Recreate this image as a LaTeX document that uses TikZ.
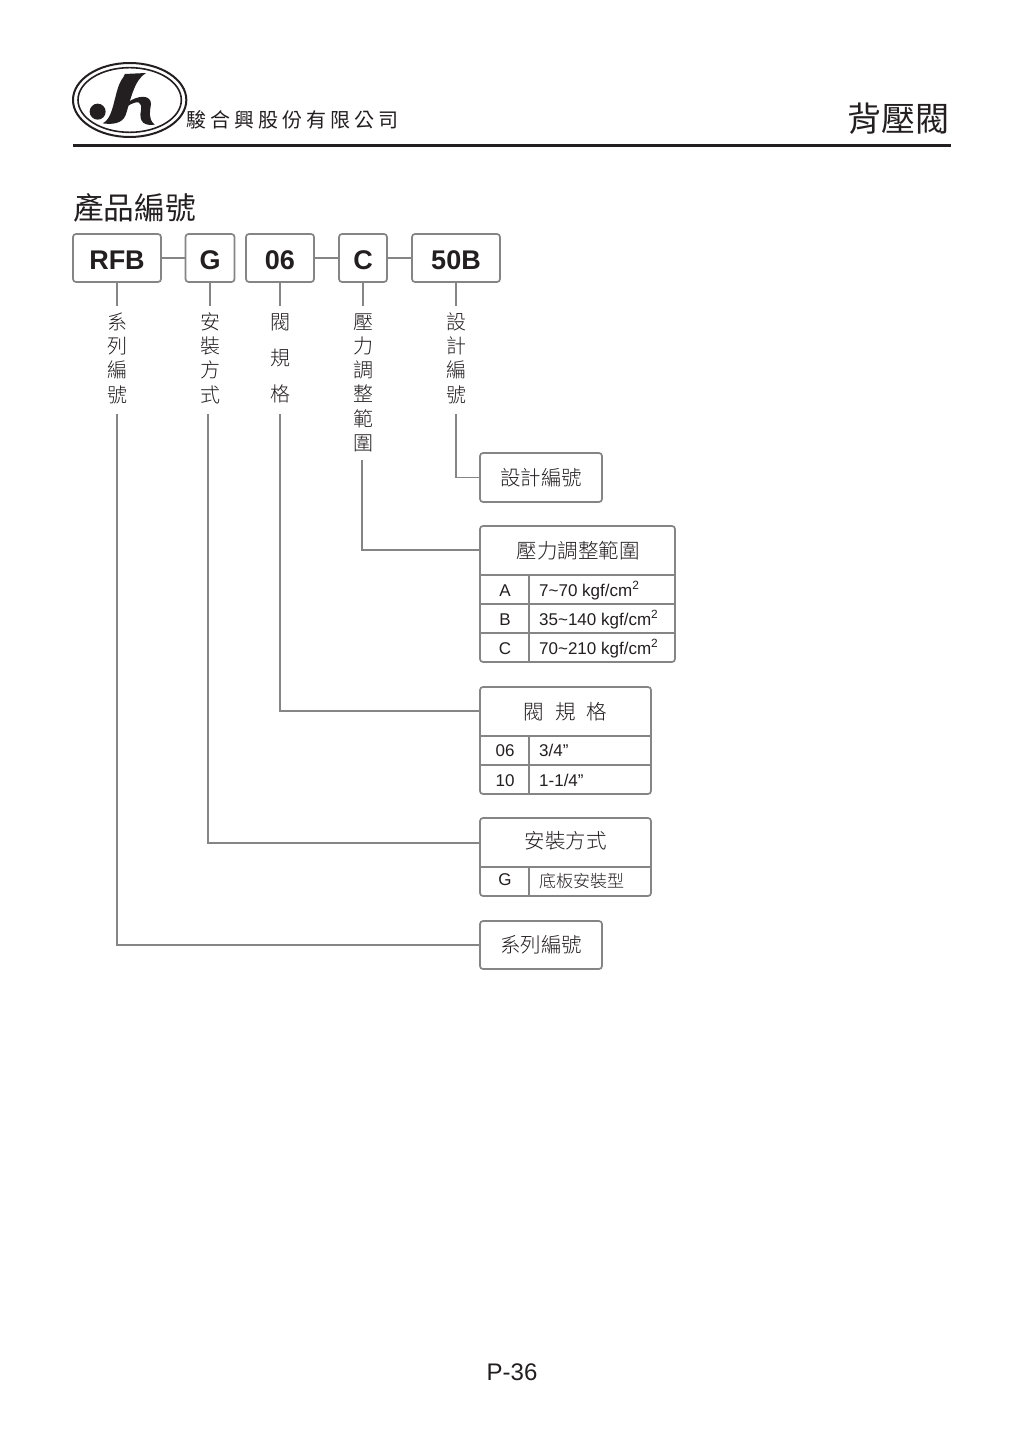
\documentclass[tikz,border=0pt]{standalone}
\usepackage{fontspec}
\setmainfont{Liberation Sans}
\newfontfamily\cjk{Noto Sans CJK TC Light}
\newfontfamily\cjkmed{Noto Sans CJK TC}
\usetikzlibrary{positioning}
\definecolor{inkdark}{HTML}{231F20}
\definecolor{linegray}{HTML}{858585}
\tikzset{
    %Define style for code boxes
    codebox/.style={
           rectangle,
           rounded corners=3pt,
           draw=linegray, line width=1.7pt,
           minimum height=48pt,
           text height=23.4pt, text depth=0pt,
           inner sep=0pt, outer sep=0pt,
           text=inkdark,
           font=\fontsize{27}{27}\selectfont\bfseries},
    %Define style for boxes on the right
    panel/.style={
           rectangle,
           rounded corners=3pt,
           draw=linegray, line width=1.7pt,
           anchor=north west,
           inner sep=0pt, outer sep=0pt,
           text=inkdark,
           font=\cjk\fontsize{20.5}{24}\selectfont},
    %Define style for the upright labels
    stack/.style={
           anchor=north,
           align=center,
           inner sep=0pt, outer sep=0pt,
           text depth=5pt,
           text=inkdark,
           font=\cjk\fontsize{20}{24.2}\selectfont},
    title/.style={text=inkdark, inner sep=0pt, font=\cjk\fontsize{20.5}{24}\selectfont},
    cell/.style={text=inkdark, inner sep=0pt, font=\fontsize{17}{20}\selectfont},
    valuecell/.style={cell, anchor=west},
    % Define connector style
    conn/.style={draw=linegray, line width=1.7pt}
}

\begin{document}
\begin{tikzpicture}[x=1pt,y=-1pt,node distance=24pt]
\useasboundingbox (0,0) rectangle (1024,1447);
\fill[white] (0,0) rectangle (1024,1447);

 %logo
\begin{scope}[shift={(70,60)},x=0.3333pt,y=-0.3333pt,inkdark]
\draw[line width=2pt] (179,120) ellipse [x radius=170,y radius=111];
\draw[line width=1.6pt] (179,120) ellipse [x radius=155,y radius=97];
\fill (83,155) circle [radius=24];
\fill (165,42) -- (228,39) .. controls (192,60) and (182,120) .. (167,165)
   .. controls (157,192) and (125,194) .. (98,190)
   .. controls (125,178) and (130,130) .. (142,90)
   .. controls (150,60) and (162,52) .. (165,42) -- cycle;
\fill (172,128) .. controls (205,104) and (243,104) .. (243,132)
   .. controls (241,152) and (232,175) .. (254,194)
   .. controls (225,198) and (205,188) .. (213,150)
   .. controls (216,125) and (205,118) .. (170,140) -- cycle;
\end{scope}

 %header
\node[anchor=west,inner sep=0pt,text=inkdark,font=\cjkmed\fontsize{20}{24}\selectfont\addfontfeature{LetterSpace=20}] (company) at (186,120) {駿合興股份有限公司};
\node[anchor=east,inner sep=0pt,text=inkdark,font=\cjkmed\fontsize{34}{36}\selectfont] (pagetitle) at (950,119) {背壓閥};
\coordinate (ruleL) at (73,146);
\coordinate (ruleR) at (951,146);
\draw[inkdark,line width=3pt] (ruleL) -- (ruleR);
\node[anchor=west,inner sep=0pt,text=inkdark,font=\cjkmed\fontsize{30.7}{34}\selectfont] (heading) at (73,208) {產品編號};

 %code boxes
\node[codebox, minimum width=88pt, anchor=north west] (rfb) at (73,234) {RFB};
\node[codebox, minimum width=49pt, right=24.5pt of rfb] (g) {G};
\node[codebox, minimum width=68pt, right=11.5pt of g] (size) {06};
\node[codebox, minimum width=48pt, right=25pt of size] (c) {C};
\node[codebox, minimum width=88pt, right=25pt of c] (b50) {50B};

 %upright labels
\node[stack, minimum height=108pt] (lblrfb) at (117,306) {系\\列\\編\\號};
\node[stack, minimum height=108pt] (lblg) at (210,306) {安\\裝\\方\\式};
\node[stack, minimum height=108pt] (lblsize) at (280,306) {閥\\[12pt]規\\[12pt]格};
\node[stack, minimum height=154pt, text depth=2pt] (lblc) at (363,306) {壓\\力\\調\\整\\範\\圍};
\node[stack, minimum height=108pt] (lblb) at (456,306) {設\\計\\編\\號};

 %right boxes
\node[panel, minimum width=122pt, minimum height=49pt] (design) at (480,453) {};
\node[title] (designt) at (design.center) {設計編號};
\node[panel, minimum width=195pt, minimum height=136pt] (press) at (480,526) {};
\node[title] (presst) at (578,551) {壓力調整範圍};
\node[panel, minimum width=171pt, minimum height=107pt] (valve) at (480,687) {};
\node[title] (valvet) at (565.5,712) {閥\hspace{11pt}規\hspace{11pt}格};
\node[panel, minimum width=171pt, minimum height=78pt] (mount) at (480,818) {};
\node[title] (mountt) at (565.5,841) {安裝方式};
\node[panel, minimum width=122pt, minimum height=48pt] (series) at (480,921) {};
\node[title] (seriest) at (series.center) {系列編號};

 %table rules
\foreach \y in {575,604,633}
  \draw[conn] (press.west |- 0,\y) -- (press.east |- 0,\y);
\draw[conn] (529,575) -- (529,662);
\foreach \y in {736,765}
  \draw[conn] (valve.west |- 0,\y) -- (valve.east |- 0,\y);
\draw[conn] (529,736) -- (529,794);
\draw[conn] (mount.west |- 0,867) -- (mount.east |- 0,867);
\draw[conn] (529,867) -- (529,896);

 %table text
\node[cell] (ka) at (505,590.5) {A};
\node[valuecell] (va) at (539,590.5) {7\textasciitilde70 kgf/cm\textsuperscript{2}};
\node[cell] (kb) at (505,619.5) {B};
\node[valuecell] (vb) at (539,619.5) {35\textasciitilde140 kgf/cm\textsuperscript{2}};
\node[cell] (kc) at (505,648.5) {C};
\node[valuecell] (vc) at (539,648.5) {70\textasciitilde210 kgf/cm\textsuperscript{2}};
\node[cell] (k06) at (505,750.5) {06};
\node[valuecell] (v06) at (539,750.5) {3/4”};
\node[cell] (k10) at (505,780.5) {10};
\node[valuecell] (v10) at (539,780.5) {1-1/4”};
\node[cell] (kg) at (505,880) {G};
\node[valuecell,font=\cjk\fontsize{17}{20}\selectfont] (vg) at (539,881) {底板安裝型};

 %page number
\node[inner sep=0pt,text=inkdark,font=\fontsize{24}{26}\selectfont] (pageno) at (512,1372) {P-36};

 %connectors
\coordinate (pressin) at (480,550);
\coordinate (valvein) at (480,711);
\coordinate (mountin) at (480,843);
\draw[conn] (rfb) -- (g);
\draw[conn] (size) -- (c);
\draw[conn] (c) -- (b50);
\draw[conn] (rfb.south) -- (lblrfb.north);
\draw[conn] (g.south) -- (lblg.north);
\draw[conn] (size.south) -- (lblsize.north);
\draw[conn] (c.south) -- (lblc.north);
\draw[conn] (b50.south) -- (lblb.north);
\draw[conn] (lblb.south) |- (design.west);
\draw[conn] ([xshift=-1pt]lblc.south) |- (pressin);
\draw[conn] (lblsize.south) |- (valvein);
\draw[conn] ([xshift=-2pt]lblg.south) |- (mountin);
\draw[conn] (lblrfb.south) |- (series.west);

\end{tikzpicture}
\end{document}
